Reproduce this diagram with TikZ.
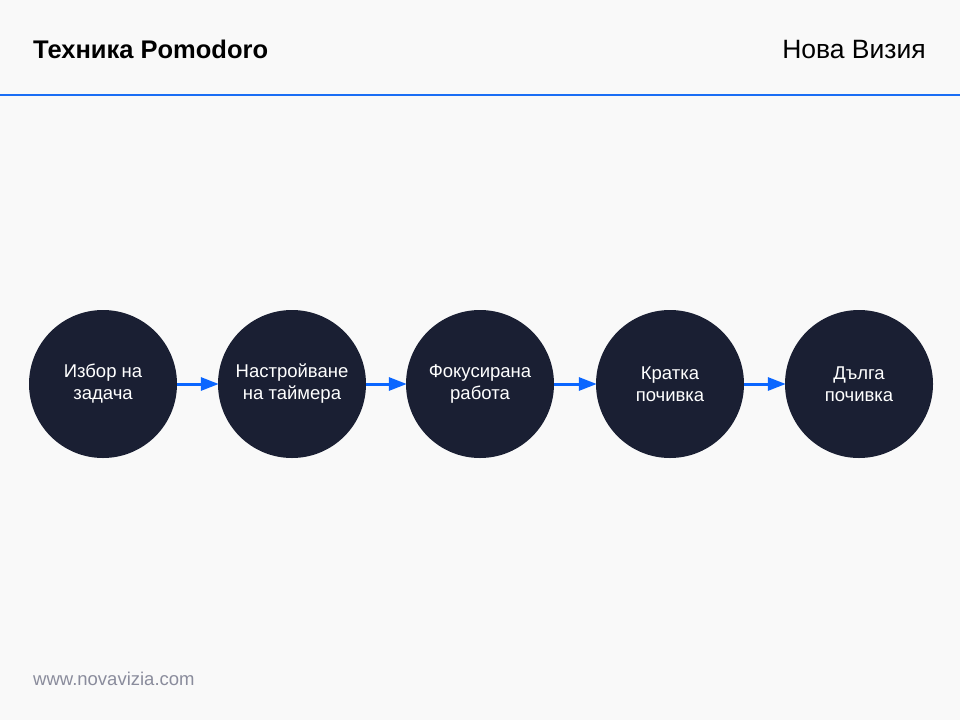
\documentclass[tikz,border=0pt]{standalone}
\usepackage{fontspec}
\setmainfont{Liberation Sans}
\usetikzlibrary{arrows.meta}
\definecolor{bgc}{HTML}{F9F9F9}
\definecolor{acc}{HTML}{1A6EF5}
\definecolor{arr}{HTML}{0A66FF}
\definecolor{circ}{HTML}{1A1F33}
\definecolor{foot}{HTML}{8A8C9C}
\tikzset{
  stepcirc/.style={circle, fill=circ, minimum size=148pt, inner sep=0pt, text=white, align=center,
    font=\fontsize{18.5}{22}\selectfont},
  flow/.style={draw=arr, line width=3pt, -{Triangle[length=18pt,width=13pt]}, shorten >=-1pt},
}
\begin{document}
\begin{tikzpicture}[x=1pt,y=-1pt]
\fill[bgc] (0,0) rectangle (960,720);
\useasboundingbox (0,0) rectangle (960,720);
\node[anchor=base west, inner sep=0pt, font=\fontsize{25.5}{28}\selectfont\bfseries] (title) at (33,58) {Техника Pomodoro};
\node[anchor=base east, inner sep=0pt, font=\fontsize{26.5}{28}\selectfont] (brand) at (926,58) {Нова Визия};
\draw[acc, line width=2pt] (0,95) -- (960,95);
\node[stepcirc] (s1) at (103,384) {Избор на\\задача};
\node[stepcirc] (s2) at (292,384) {Настройване\\на таймера};
\node[stepcirc] (s3) at (480,384) {Фокусирана\\работа};
\node[stepcirc] (s4) at (670,384) {Кратка\\почивка};
\node[stepcirc] (s5) at (859,384) {Дълга\\почивка};
\draw[flow] (s1) -- (s2);
\draw[flow] (s2) -- (s3);
\draw[flow] (s3) -- (s4);
\draw[flow] (s4) -- (s5);
\node[anchor=base west, inner sep=0pt, text=foot, font=\fontsize{18.5}{20}\selectfont] (web) at (33,685) {www.novavizia.com};
\end{tikzpicture}
\end{document}
